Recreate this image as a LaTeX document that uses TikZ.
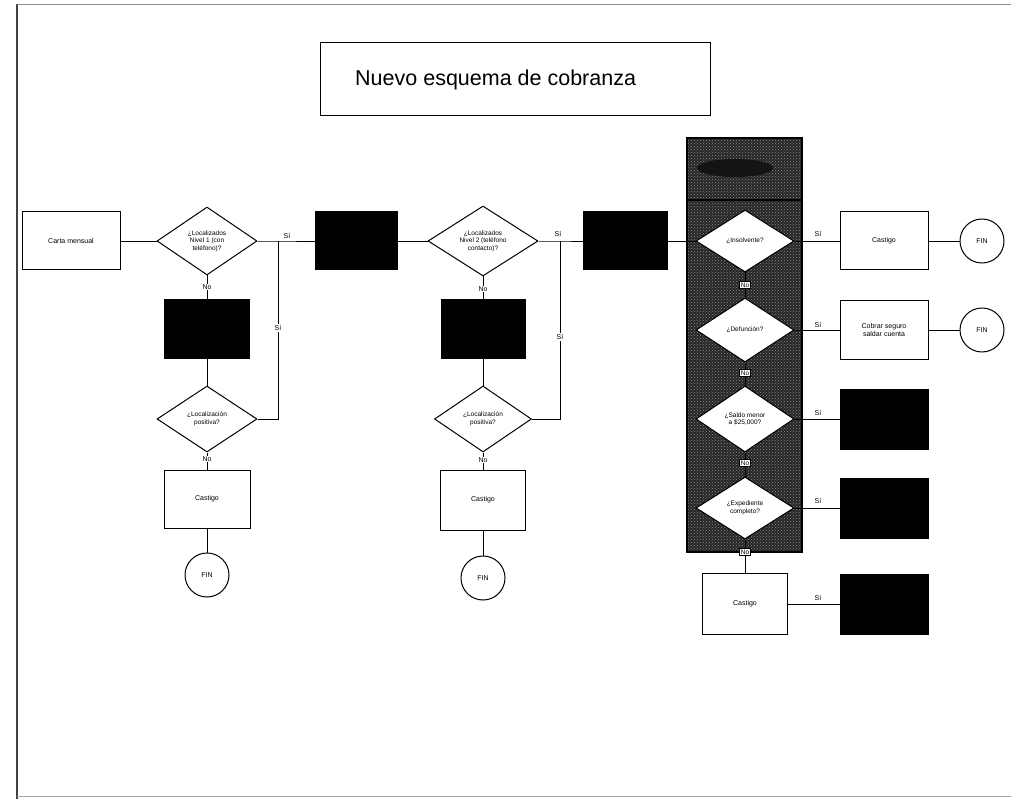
\documentclass[tikz,border=0pt]{standalone}
\usepackage{fontspec}
\setmainfont{Liberation Sans}
\usetikzlibrary{shapes.geometric,patterns}
\tikzset{
  conn/.style={line width=0.8pt},
  proc/.style={draw, line width=1pt, fill=white, inner sep=1pt, align=center,
    font=\fontsize{7}{8}\selectfont},
  blk/.style={draw, line width=1pt, fill=black},
  dec/.style={diamond, draw, line width=1pt, fill=white, inner sep=0pt, align=center,
    font=\fontsize{6.5}{7.5}\selectfont},
  endc/.style={circle, draw, line width=1pt, fill=white, minimum size=44pt, inner sep=0pt,
    font=\fontsize{7}{8}\selectfont},
  lbl/.style={fill=white, inner sep=1pt, font=\fontsize{7}{8}\selectfont},
  nobox/.style={draw, line width=0.6pt, fill=white, inner sep=1.2pt, font=\fontsize{6.5}{7.5}\selectfont},
}
\begin{document}
\begin{tikzpicture}[x=1pt,y=-1pt]
\useasboundingbox (0,0) rectangle (1011,799);
\fill[white] (0,0) rectangle (1011,799);

% page frame
\draw[black!75, line width=1.2pt] (17,799) -- (17,4);
\draw[black!45, line width=0.7pt] (17,4) -- (1011,4);
\draw[black!35, line width=0.6pt] (17,796) -- (1011,796);

% title
\node[draw, line width=0.8pt, minimum width=390pt, minimum height=73pt] (title) at (515,79) {};
\node[anchor=west, inner sep=0pt, font=\fontsize{21.5}{24}\selectfont] (ttext) at (355,80) {Nuevo esquema de cobranza};

% right-hand panel
\fill[black!85] (687,138) rectangle (802,552);
\fill[pattern=crosshatch dots, pattern color=black!45] (687,138) rectangle (802,552);
\fill[black!92] (735,168) ellipse (38pt and 9pt);
\draw[line width=1.6pt] (687,138) rectangle (802,552);
\draw[line width=1.6pt] (687,200) -- (802,200);

% first stage
\node[proc, minimum width=98pt, minimum height=58pt] (carta) at (71,241) {Carta mensual};
\node[dec, minimum width=100pt, minimum height=68pt] (d1) at (207,241) {¿Localizados\\Nivel 1 (con\\teléfono)?};
\node[blk, minimum width=82pt, minimum height=58pt] (b1) at (356,241) {};
\node[blk, minimum width=85pt, minimum height=58pt] (b2) at (207,329) {};
\node[dec, minimum width=100pt, minimum height=66pt] (d2) at (207,419) {¿Localización\\positiva?};
\node[proc, minimum width=86pt, minimum height=58pt] (c1) at (207,499) {Castigo};
\node[endc] (f1) at (207,575) {FIN};
\coordinate (j1) at (278,241);

% second stage
\node[dec, minimum width=110pt, minimum height=70pt] (d3) at (483,241) {¿Localizados\\Nivel 2 (teléfono\\contacto)?};
\node[blk, minimum width=84pt, minimum height=58pt] (b3) at (625,241) {};
\node[blk, minimum width=84pt, minimum height=59pt] (b4) at (483,329) {};
\node[dec, minimum width=97pt, minimum height=66pt] (d4) at (483,419) {¿Localización\\positiva?};
\node[proc, minimum width=85pt, minimum height=60pt] (c2) at (483,500) {Castigo};
\node[endc] (f2) at (483,578) {FIN};
\coordinate (j2) at (560,241);

% third stage
\node[dec, minimum width=98pt, minimum height=62pt] (d5) at (745,241) {¿Insolvente?};
\node[dec, minimum width=98pt, minimum height=64pt] (d6) at (745,330) {¿Defunción?};
\node[dec, minimum width=98pt, minimum height=66pt] (d7) at (745,419) {¿Saldo menor\\a \$25,000?};
\node[dec, minimum width=98pt, minimum height=62pt] (d8) at (745,508) {¿Expediente\\completo?};
\node[proc, minimum width=85pt, minimum height=61pt] (c4) at (745,604) {Castigo};
\node[proc, minimum width=88pt, minimum height=58pt] (c3) at (884,241) {Castigo};
\node[endc] (f3) at (982,241) {FIN};
\node[proc, minimum width=88pt, minimum height=58pt] (cs) at (884,330) {Cobrar seguro\\saldar cuenta};
\node[endc] (f4) at (982,330) {FIN};
\node[blk, minimum width=88pt, minimum height=60pt] (b5) at (884,419) {};
\node[blk, minimum width=88pt, minimum height=60pt] (b6) at (884,508) {};
\node[blk, minimum width=88pt, minimum height=60pt] (b7) at (884,604) {};

% connectors, first stage
\draw[conn] (carta.east) -- (d1.west);
\draw[conn] (d1.east) -- (j1) -- (b1.west);
\draw[conn] (d1.south) -- (b2.north);
\draw[conn] (b2.south) -- (d2.north);
\draw[conn] (d2.east) -| (j1);
\draw[conn] (d2.south) -- (c1.north);
\draw[conn] (c1.south) -- (f1.north);
\node[lbl] (s1) at (287,236) {Sí};
\node[lbl] (s1v) at (278,328) {Sí};
\node[lbl] (n1) at (207,287) {No};
\node[lbl] (n2) at (207,459) {No};

% connectors, second stage
\draw[conn] (b1.east) -- (d3.west);
\draw[conn] (d3.east) -- (j2) -- (b3.west);
\draw[conn] (d3.south) -- (b4.north);
\draw[conn] (b4.south) -- (d4.north);
\draw[conn] (d4.east) -| (j2);
\draw[conn] (d4.south) -- (c2.north);
\draw[conn] (c2.south) -- (f2.north);
\node[lbl] (s2) at (558,234) {Sí};
\node[lbl] (s2v) at (560,337) {Sí};
\node[lbl] (n3) at (483,289) {No};
\node[lbl] (n4) at (483,460) {No};

% connectors, third stage
\draw[conn] (b3.east) -- (d5.west);
\draw[conn] (d5.south) -- (d6.north);
\draw[conn] (d6.south) -- (d7.north);
\draw[conn] (d7.south) -- (d8.north);
\draw[conn] (d8.south) -- (c4.north);
\draw[conn] (d5.east) -- (c3.west);
\draw[conn] (c3.east) -- (f3.west);
\draw[conn] (d6.east) -- (cs.west);
\draw[conn] (cs.east) -- (f4.west);
\draw[conn] (d7.east) -- (b5.west);
\draw[conn] (d8.east) -- (b6.west);
\draw[conn] (c4.east) -- (b7.west);
\node[nobox] (n5) at (745,285) {No};
\node[nobox] (n6) at (745,373) {No};
\node[nobox] (n7) at (745,463) {No};
\node[nobox] (n8) at (745,552) {No};
\node[lbl] (s3) at (818,234) {Sí};
\node[lbl] (s4) at (818,325) {Sí};
\node[lbl] (s5) at (818,413) {Sí};
\node[lbl] (s6) at (818,501) {Sí};
\node[lbl] (s7) at (818,598) {Sí};
\end{tikzpicture}
\end{document}
